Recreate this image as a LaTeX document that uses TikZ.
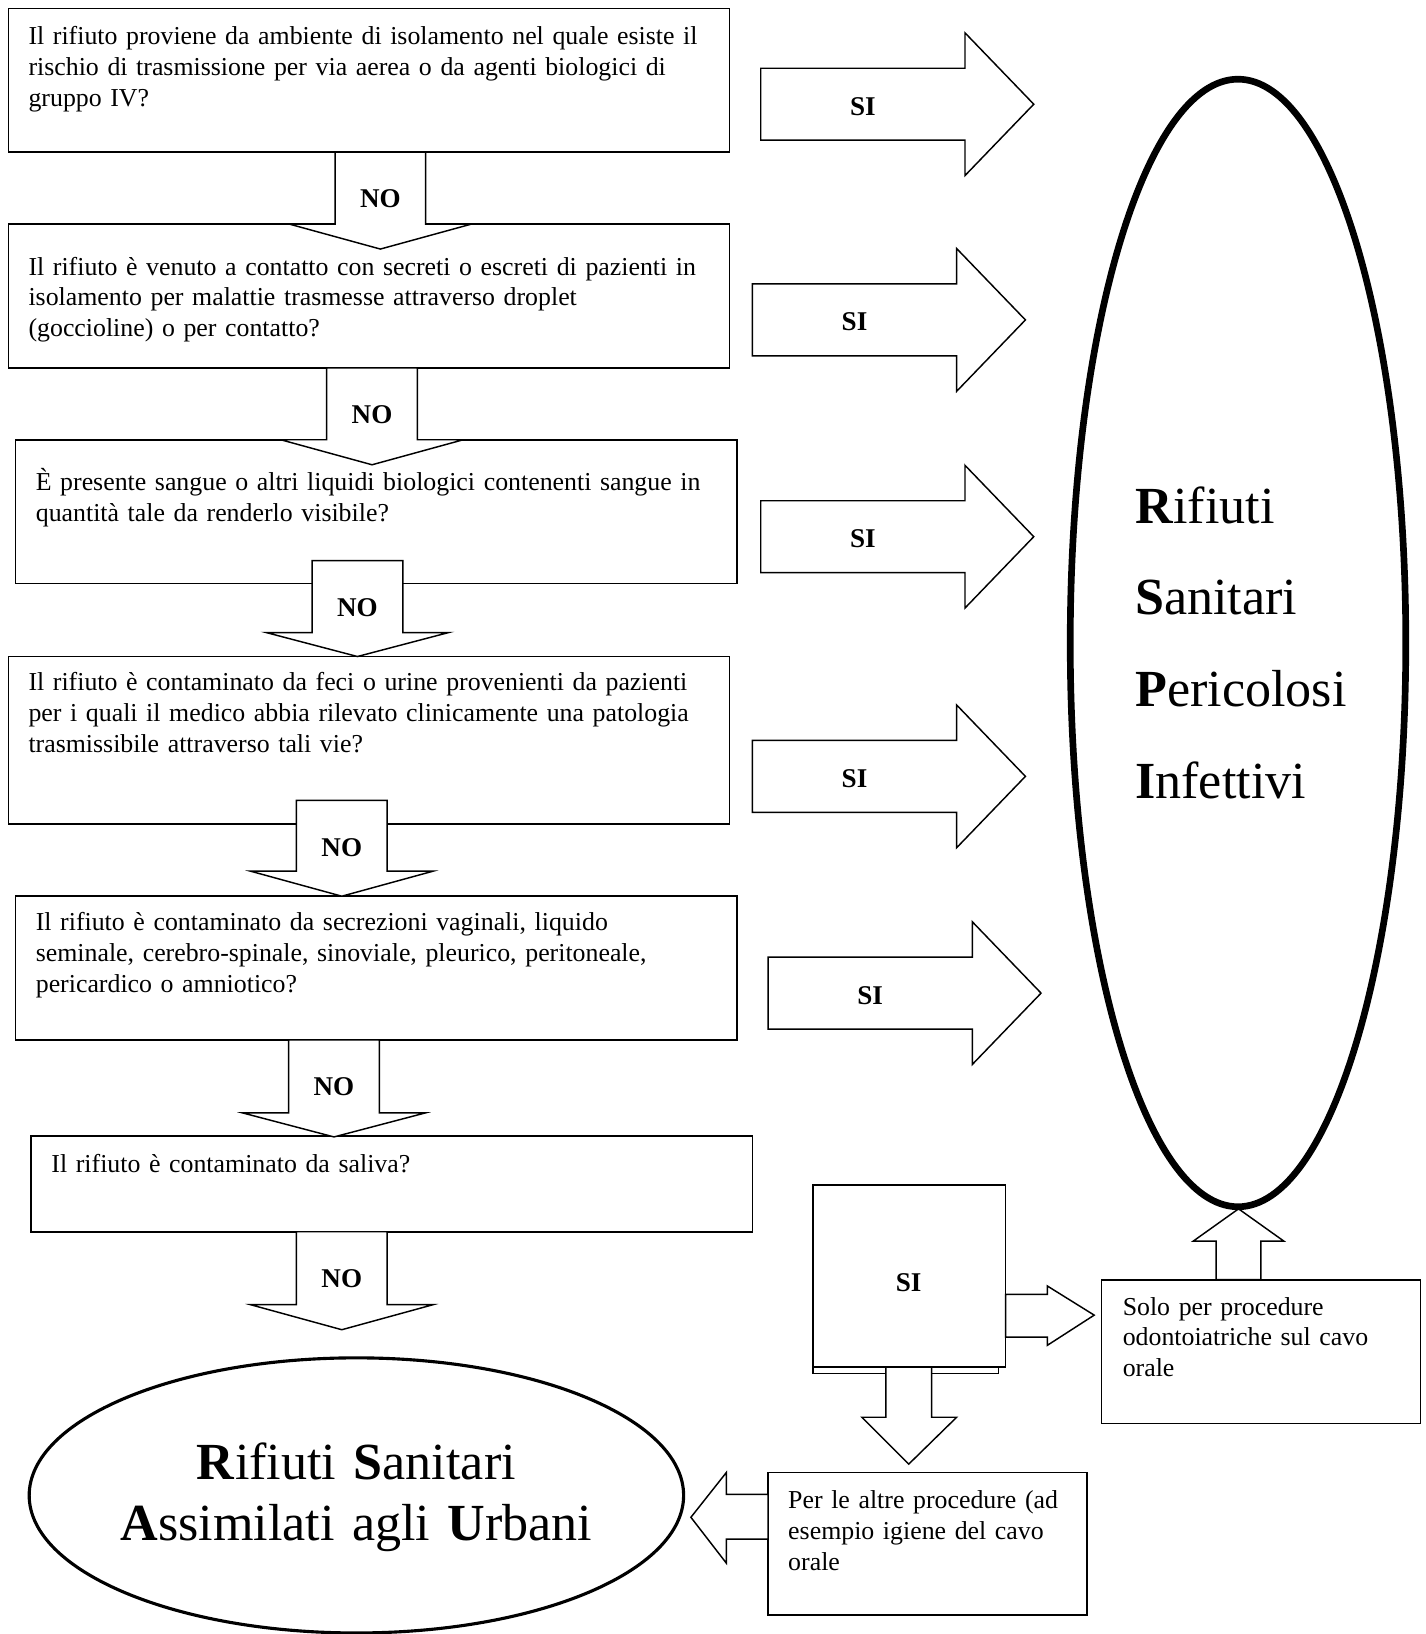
\documentclass[tikz,border=0pt]{standalone}
\usepackage{fontspec}
\setmainfont{Liberation Serif}
\usetikzlibrary{shapes.geometric,fit}

\tikzset{
  qbox/.style={draw, line width=0.8pt, inner sep=0pt},
  qtext/.style={anchor=base west, inner sep=0pt, text width=345pt, font=\fontsize{12.4}{14.8}\selectfont},
  blockarrow/.style={draw, fill=white, line width=0.7pt, line join=miter},
  arrowlabel/.style={inner sep=0pt, font=\fontsize{13}{15}\selectfont\bfseries},
  bigtext/.style={inner sep=0pt, font=\fontsize{25}{29.5}\selectfont}
}

\newcommand{\noarrow}[5]{%
  \draw[blockarrow] (#2-43.5,#3) -- (#2+43.5,#3) -- (#2+43.5,#4) -- (#2+87.5,#4) -- (#2,#5) -- (#2-87.5,#4) -- (#2-43.5,#4) -- cycle;
  \node[arrowlabel] (#1) at (#2,#3+45) {NO};
}
\newcommand{\siarrow}[3]{%
  \draw[blockarrow] (#2,#3-34.5) -- (#2+196,#3-34.5) -- (#2+196,#3-68.5) -- (#2+262,#3) -- (#2+196,#3+68.5) -- (#2+196,#3+34.5) -- (#2,#3+34.5) -- cycle;
  \node[arrowlabel] (#1) at (#2+98,#3+2) {SI};
}

\begin{document}
\begin{tikzpicture}[x=0.5pt, y=-0.5pt]
        \useasboundingbox (0,0) rectangle (1368,1568);
        \node[qbox, fit={(8,8) (700,146)}] (q1) {};
        \node[qbox, fit={(8,215) (700,353)}] (q2) {};
        \node[qbox, fit={(15,422) (707,560)}] (q3) {};
        \node[qbox, fit={(8,630) (700,791)}] (q4) {};
        \node[qbox, fit={(15,860) (707,998)}] (q5) {};
        \node[qbox, fit={(30,1090) (722,1182)}] (q6) {};
        \node[qbox, fit={(1057,1228) (1363,1366)}] (solo) {};
        \node[qbox, fit={(737,1413) (1043,1550)}] (altre) {};
        \node[qbox, fit={(780,1137) (965,1312)}] (sibox) {};
        \draw[line width=0.8pt] (780,1312) -- (780,1318) -- (958,1318) -- (958,1312);

        \node[qtext] (t1) at (27,43) {Il rifiuto proviene da ambiente di isolamento nel quale esiste il\\rischio di trasmissione per via aerea o da agenti biologici di\\gruppo IV?};
        \node[qtext] (t2) at (27,264) {Il rifiuto è venuto a contatto con secreti o escreti di pazienti in\\isolamento per malattie trasmesse attraverso droplet\\(goccioline) o per contatto?};
        \node[qtext] (t3) at (34,471) {È presente sangue o altri liquidi biologici contenenti sangue in\\quantità tale da renderlo visibile?};
        \node[qtext] (t4) at (27,663) {Il rifiuto è contaminato da feci o urine provenienti da pazienti\\per i quali il medico abbia rilevato clinicamente una patologia\\trasmissibile attraverso tali vie?};
        \node[qtext] (t5) at (34,893) {Il rifiuto è contaminato da secrezioni vaginali, liquido\\seminale, cerebro-spinale, sinoviale, pleurico, peritoneale,\\pericardico o amniotico?};
        \node[qtext] (t6) at (49,1125) {Il rifiuto è contaminato da saliva?};
        \node[qtext, text width=145pt] (t7) at (1077,1262) {Solo per procedure\\odontoiatriche sul cavo\\orale};
        \node[qtext, text width=145pt] (t8) at (756,1448) {Per le altre procedure (ad\\esempio igiene del cavo\\orale};
        \node[arrowlabel] (si6) at (872,1231) {SI};

        \noarrow{no1}{365}{146}{215}{239}
        \noarrow{no2}{357}{353}{422}{446}
        \noarrow{no3}{343}{538}{607}{630}
        \noarrow{no4}{328}{768}{836}{860}
        \noarrow{no5}{320.5}{998}{1068}{1091}
        \noarrow{no6}{328}{1182}{1252}{1276}

        \siarrow{si1}{730}{100}
        \siarrow{si2}{722}{307}
        \siarrow{si3}{730}{515}
        \siarrow{si4}{722}{745}
        \siarrow{si5}{737}{953}

        \draw[blockarrow] (850,1312) -- (894,1312) -- (894,1360) -- (918,1360) -- (872,1405) -- (827,1360) -- (850,1360) -- cycle;
        \draw[blockarrow] (965,1242) -- (1005,1242) -- (1005,1234) -- (1050,1262) -- (1005,1291) -- (1005,1283) -- (965,1283) -- cycle;
        \draw[blockarrow] (1167,1228) -- (1167,1191) -- (1145,1191) -- (1188.5,1160) -- (1232,1191) -- (1210,1191) -- (1210,1228) -- cycle;
        \draw[blockarrow] (737,1434) -- (697,1434) -- (697,1413) -- (663,1456) -- (697,1500) -- (697,1477) -- (737,1477) -- cycle;

        \node[draw, ellipse, line width=3.2pt, minimum width=161pt, minimum height=541pt, inner sep=0pt] (rsp) at (1188,617) {};
        \node[bigtext, anchor=base west, text width=120pt, font=\fontsize{25}{44}\selectfont] (rsptext) at (1089,502) {\textbf{R}ifiuti\\\textbf{S}anitari\\\textbf{P}ericolosi\\\textbf{I}nfettivi};
        \node[draw, ellipse, line width=1.5pt, minimum width=314pt, minimum height=132pt, inner sep=0pt] (rsau) at (342,1435) {};
        \node[bigtext, align=center, text width=300pt] (rsautext) at (342,1437) {\textbf{R}ifiuti \textbf{S}anitari\\\textbf{A}ssimilati agli \textbf{U}rbani};
\end{tikzpicture}
\end{document}
